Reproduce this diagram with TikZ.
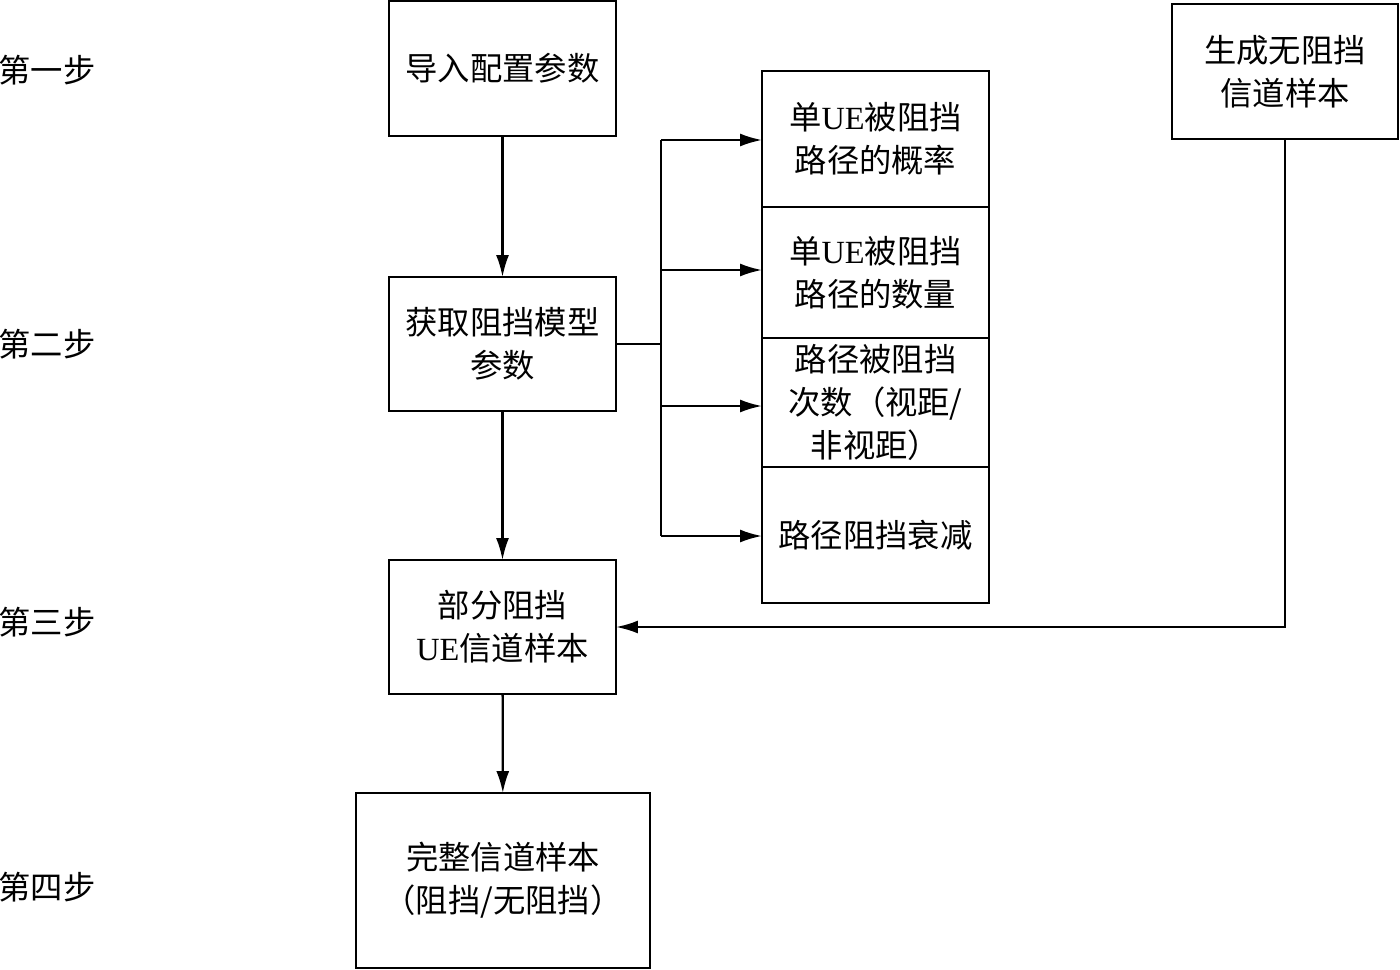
\documentclass[tikz,border=0pt]{standalone}
\usepackage{fontspec}
\setmainfont{Liberation Serif}
\newfontfamily\cjk{Noto Sans CJK SC}
\usetikzlibrary{arrows.meta}
\begin{document}
\begin{tikzpicture}[x=0.02cm,y=-0.02cm,
  every node/.style={font=\fontsize{18.4}{24.5}\selectfont\cjk, inner sep=0pt, outer sep=0pt, align=center},
  box/.style={draw, line width=1.3pt},
  steplabel/.style={},
  conn/.style={line width=1.3pt, -{Latex[length=4.4mm,width=2.6mm]}},
  plain/.style={line width=1.3pt}]
\useasboundingbox (0,0) rectangle (1400,970);
% main column
\node[box, minimum width=4.54cm, minimum height=2.7cm] (b1) at (502.5,68.5) {导入配置参数};
\node[box, minimum width=4.54cm, minimum height=2.68cm] (b2) at (502.5,344) {获取阻挡模型\\参数};
\node[box, minimum width=4.54cm, minimum height=2.68cm] (b3) at (502.5,627) {部分阻挡\\{\rmfamily UE}信道样本};
\node[box, minimum width=5.88cm, minimum height=3.5cm] (b4) at (503,880.5) {完整信道样本\\（阻挡/无阻挡）};
\node[box, minimum width=4.52cm, minimum height=2.7cm] (b5) at (1285,71.5) {生成无阻挡\\信道样本};
% stacked parameter boxes
\node[box, minimum width=4.54cm, minimum height=2.72cm] (s1) at (875.5,139) {单{\rmfamily UE}被阻挡\\路径的概率};
\node[box, minimum width=4.54cm, minimum height=2.62cm] (s2) at (875.5,272.5) {单{\rmfamily UE}被阻挡\\路径的数量};
\node[box, minimum width=4.54cm, minimum height=2.58cm] (s3) at (875.5,402.5) {路径被阻挡\\次数（视距/\\非视距）};
\node[box, minimum width=4.54cm, minimum height=2.72cm] (s4) at (875.5,535) {路径阻挡衰减};
% step labels
\node[steplabel] (l1) at (47,70) {第一步};
\node[steplabel] (l2) at (47,344) {第二步};
\node[steplabel] (l3) at (47,622) {第三步};
\node[steplabel] (l4) at (47,887) {第四步};
% trunk coordinates
\coordinate (tm) at (661,344);
\coordinate (t1) at (661,140);
\coordinate (t2) at (661,270);
\coordinate (t3) at (661,406);
\coordinate (t4) at (661,536);
% connectors
\draw[conn] (b1) -- (b2);
\draw[conn] (b2) -- (b3);
\draw[conn] (b3) -- (b4);
\draw[plain] (b2.east |- tm) -- (tm);
\draw[plain] (t1) -- (t4);
\draw[conn] (t1) -- (t1 -| s1.west);
\draw[conn] (t2) -- (t2 -| s2.west);
\draw[conn] (t3) -- (t3 -| s3.west);
\draw[conn] (t4) -- (t4 -| s4.west);
\draw[conn] (b5.south) |- (b3.east);
\end{tikzpicture}
\end{document}
